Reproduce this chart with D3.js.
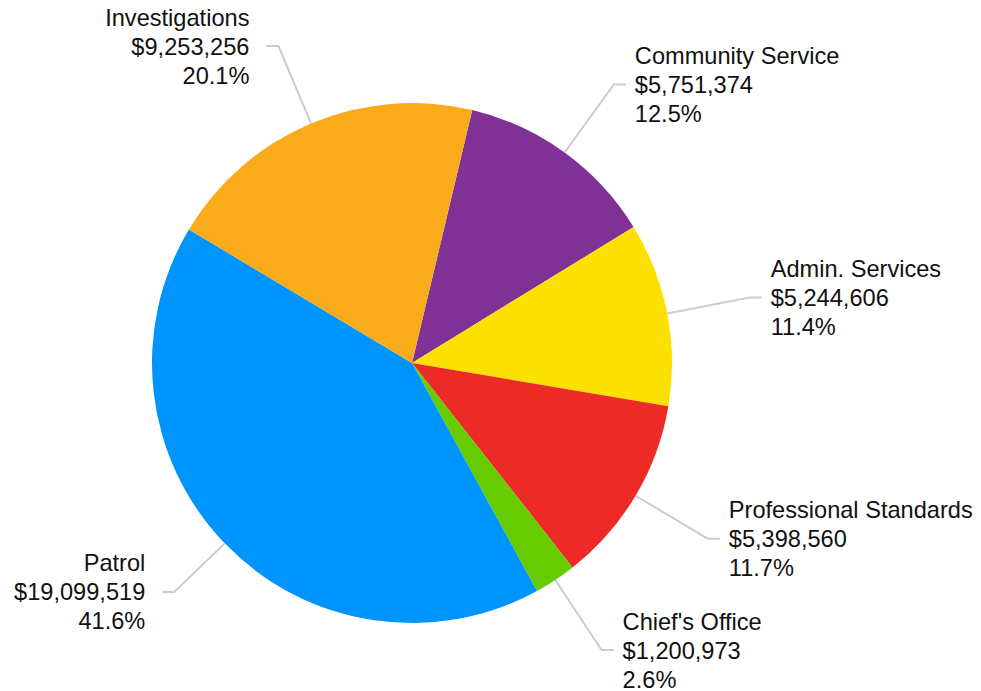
<!DOCTYPE html>
<html>
<head>
<meta charset="utf-8">
<script src="https://cdn.jsdelivr.net/npm/d3@7/dist/d3.min.js"></script>
<style>
  html, body { margin: 0; padding: 0; background: #fff; }
  svg { display: block; }
  text { font-family: "Liberation Sans", Arial, Helvetica, sans-serif; }
</style>
</head>
<body>
<svg id="chart" width="981" height="691"></svg>
<script>
// Data (clockwise order as drawn)
const categories = ["Community Service", "Admin. Services", "Professional Standards", "Chief's Office", "Patrol", "Investigations"];
const values = [5751374, 5244606, 5398560, 1200973, 19099519, 9253256];
const colors = ["#7f3196", "#fbe000", "#ee2a27", "#66cc00", "#0094fe", "#faab1b"];

// Layout
const W = 981, H = 691;
const cx = 412, cy = 363, R = 260;
const startDeg = 13.4;
const labelGap = 84;
const labelNudge = { "Patrol": -14 };
const fontSize = 23.6, lineH = 29, capHalf = 8.5;

const svg = d3.select("#chart");
svg.append("rect").attr("width", W).attr("height", H).attr("fill", "#fff");

const data = categories.map((c, i) => ({ name: c, value: values[i], color: colors[i] }));
const total = d3.sum(values);
const start = startDeg * Math.PI / 180;

const pie = d3.pie().value(d => d.value).sort(null)
  .startAngle(start).endAngle(start + 2 * Math.PI);
const arcs = pie(data);
const arc = d3.arc().innerRadius(0).outerRadius(R);

const g = svg.append("g").attr("transform", `translate(${cx},${cy})`);

g.selectAll("path.slice").data(arcs).enter().append("path")
  .attr("class", "slice")
  .attr("d", arc)
  .attr("fill", d => d.data.color);

const fmtMoney = d3.format("$,");
const fmtPct = d3.format(".1%");

arcs.forEach(a => {
  const mid = (a.startAngle + a.endAngle) / 2;
  const sx = Math.sin(mid), sy = -Math.cos(mid);
  const rb = R + labelGap + (labelNudge[a.data.name] || 0);
  const p0 = [R * sx, R * sy];
  const p1 = [rb * sx, rb * sy];
  const right = sx >= 0;
  const p2 = [p1[0] + (right ? 12 : -12), p1[1]];
  g.append("path")
    .attr("d", d3.line()([p0, p1, p2]))
    .attr("fill", "none")
    .attr("stroke", "#cccccc")
    .attr("stroke-width", 2);
  const tx = p2[0] + (right ? 9 : -17);
  const t = g.append("text")
    .attr("x", tx)
    .attr("y", p1[1] + capHalf)
    .attr("text-anchor", right ? "start" : "end")
    .attr("font-size", fontSize)
    .attr("fill", "#111");
  const lines = [a.data.name, fmtMoney(a.data.value), fmtPct(a.data.value / total)];
  lines.forEach((s, i) => {
    t.append("tspan").attr("x", tx).attr("dy", i === 0 ? -lineH : lineH).text(s);
  });
  // first tspan dy relative to y: -lineH; then +lineH twice -> middle line at y
});
</script>
</body>
</html>
